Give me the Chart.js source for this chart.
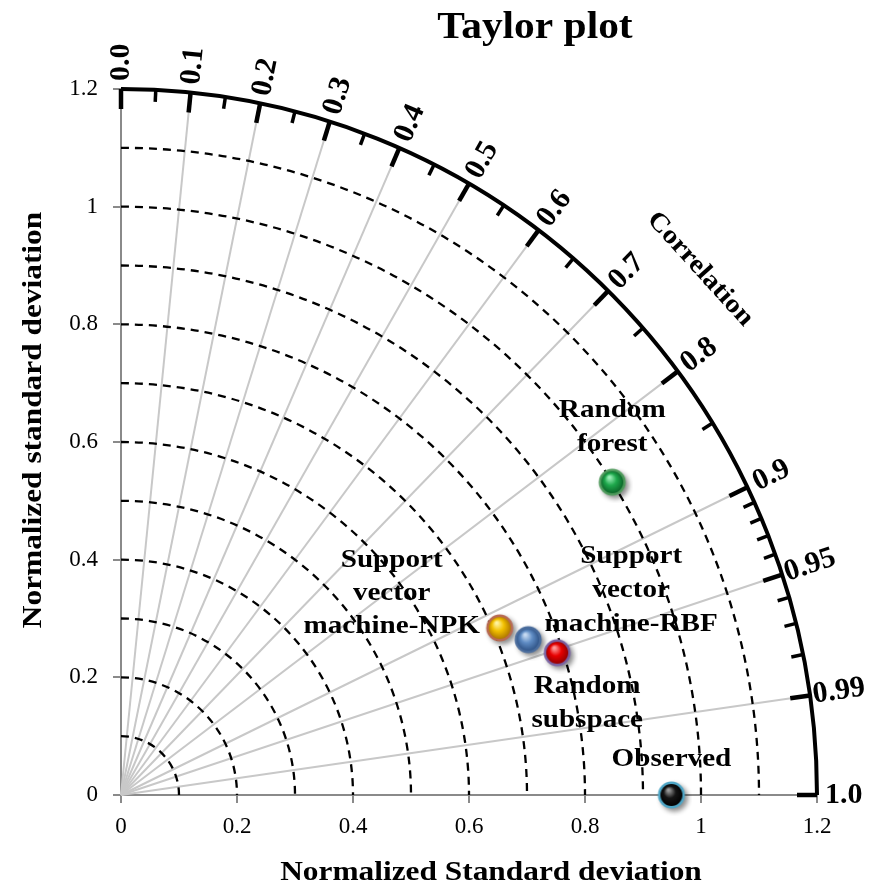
<!DOCTYPE html>
<html>
<head>
<meta charset="utf-8">
<script src="https://cdn.jsdelivr.net/npm/chart.js@4.4.1/dist/chart.umd.min.js"></script>
<style>
  html, body { margin: 0; padding: 0; background: #fff; }
  canvas { display: block; }
</style>
</head>
<body>
<canvas id="taylor" width="870" height="888"></canvas>
<script>
// data
const models = ["Observed", "Random forest", "Support vector machine-NPK", "Support vector machine-RBF", "Random subspace"]
const stdDev = [0.949, 1.0, 0.712, 0.75, 0.79]
const correlation = [1.0, 0.847, 0.917, 0.936, 0.952]
const labelLines = [["Observed"], ["Random", "forest"], ["Support", "vector", "machine-NPK"], ["Support", "vector", "machine-RBF"], ["Random", "subspace"]]

const stdTicks = [0, 0.2, 0.4, 0.6, 0.8, 1, 1.2]
const stdTickLabels = ["0", "0.2", "0.4", "0.6", "0.8", "1", "1.2"]
const sdArcs = [0.1, 0.2, 0.3, 0.4, 0.5, 0.6, 0.7, 0.8, 0.9, 1.0, 1.1]
const corrMajor = [0.0, 0.1, 0.2, 0.3, 0.4, 0.5, 0.6, 0.7, 0.8, 0.9, 0.95, 0.99, 1.0]
const corrLabels = ["0.0", "0.1", "0.2", "0.3", "0.4", "0.5", "0.6", "0.7", "0.8", "0.9", "0.95", "0.99", "1.0"]
const corrMinor = [0.05, 0.15, 0.25, 0.35, 0.45, 0.55, 0.65, 0.75, 0.85, 0.91, 0.92, 0.93, 0.94, 0.96, 0.97, 0.98]
const corrLines = [0.1, 0.2, 0.3, 0.4, 0.5, 0.6, 0.7, 0.8, 0.9, 0.95, 0.99]
const RMAX = 1.2

// styling
const SERIF = '"Liberation Serif", "Times New Roman", serif'
const SX = 1.12 // the reference text is a little wide
// [light, base, dark, rim]
const sphereColors = [
  ["#9a9a9a", "#151515", "#000000", "#4fa6c6"],
  ["#9cf0b8", "#1ea84c", "#0a5d25", "#4f9a5c"],
  ["#fff3a0", "#f2c000", "#a87000", "#b86a52"],
  ["#c6daf2", "#5f8cc4", "#2c4f82", "#4a6c9c"],
  ["#ff9a9a", "#e80000", "#8a0000", "#7a62a2"],
]
// label offsets from the marker centre: [dx, first baseline dy, line step]
const labelPos = [[0, -29, 34], [0, -65, 34], [-108, -61, 33], [103, -77, 34], [30, 40, 34]]

function sphere(c) {
  const cv = document.createElement("canvas")
  cv.width = cv.height = 42
  const g = cv.getContext("2d")
  g.save()
  g.shadowColor = "rgba(0,0,0,0.45)"
  g.shadowBlur = 5
  g.shadowOffsetX = 3
  g.shadowOffsetY = 3
  g.beginPath()
  g.arc(21, 21, 13.5, 0, Math.PI * 2)
  g.fillStyle = c[3]
  g.fill()
  g.restore()
  const grad = g.createRadialGradient(18, 16, 1, 21, 21, 12)
  grad.addColorStop(0, c[0])
  grad.addColorStop(0.45, c[1])
  grad.addColorStop(1, c[2])
  g.beginPath()
  g.arc(21, 21, 11, 0, Math.PI * 2)
  g.fillStyle = grad
  g.fill()
  return cv
}

function wideText(ctx, text, x, y, font, rot, align, base) {
  ctx.save()
  ctx.translate(x, y)
  ctx.rotate(rot || 0)
  ctx.scale(SX, 1)
  ctx.font = font
  ctx.textAlign = align || "center"
  ctx.textBaseline = base || "alphabetic"
  ctx.fillStyle = "#000"
  ctx.fillText(text, 0, 0)
  ctx.restore()
}

const taylorPlugin = {
  id: "taylor",
  beforeDatasetsDraw(chart) {
    const { ctx } = chart
    const xs = chart.scales.x, ys = chart.scales.y
    const ox = xs.getPixelForValue(0), oy = ys.getPixelForValue(0)
    const kx = xs.getPixelForValue(1) - ox, ky = oy - ys.getPixelForValue(1)
    const P = (r, c) => [ox + r * c * kx, oy - r * Math.sqrt(Math.max(0, 1 - c * c)) * ky]
    const dir = (c) => {
      const p = P(1, c)
      const dx = p[0] - ox, dy = p[1] - oy
      const l = Math.hypot(dx, dy)
      return [dx / l, dy / l]
    }

    ctx.save()
    // radial correlation lines
    ctx.strokeStyle = "#c8c8c8"
    ctx.lineWidth = 2
    corrLines.forEach((c) => {
      const p = P(RMAX, c)
      ctx.beginPath()
      ctx.moveTo(ox, oy)
      ctx.lineTo(p[0], p[1])
      ctx.stroke()
    })

    // std dev arcs
    ctx.strokeStyle = "#000"
    ctx.lineWidth = 2.3
    ctx.setLineDash([8, 6])
    sdArcs.forEach((r) => {
      ctx.beginPath()
      ctx.ellipse(ox, oy, r * kx, r * ky, 0, -Math.PI / 2, 0)
      ctx.stroke()
    })
    ctx.setLineDash([])

    // outer arc
    ctx.lineWidth = 4
    ctx.beginPath()
    ctx.ellipse(ox, oy, RMAX * kx, RMAX * ky, 0, -Math.PI / 2, 0)
    ctx.stroke()

    // ticks
    ctx.lineCap = "butt"
    const tick = (c, len, w) => {
      const p = P(RMAX, c), d = dir(c)
      ctx.lineWidth = w
      ctx.beginPath()
      ctx.moveTo(p[0], p[1])
      ctx.lineTo(p[0] - d[0] * len, p[1] - d[1] * len)
      ctx.stroke()
    }
    corrMinor.forEach((c) => tick(c, 12, 3.5))
    corrMajor.forEach((c) => tick(c, 20, 4.5))

    // correlation labels
    ctx.fillStyle = "#000"
    ctx.font = "bold 30px " + SERIF
    ctx.textAlign = "left"
    ctx.textBaseline = "middle"
    corrMajor.forEach((c, i) => {
      const d = dir(c)
      const gap = c > 0.92 && c < 1 ? 3 : 8
      const p = P(RMAX, c)
      ctx.save()
      ctx.translate(p[0] + d[0] * gap, p[1] + d[1] * gap)
      ctx.rotate(Math.atan2(d[1], d[0]))
      ctx.fillText(corrLabels[i], 0, 0)
      ctx.restore()
    })

    // "Correlation" caption along the arc
    const cc = 0.745, cd = dir(cc), cp = P(1.34, cc)
    wideText(ctx, "Correlation", cp[0], cp[1], "bold 26px " + SERIF, Math.atan2(cd[1], cd[0]) + Math.PI / 2, "center", "middle")
    ctx.restore()
  },
  afterDatasetsDraw(chart) {
    const { ctx } = chart
    const meta = chart.getDatasetMeta(0)
    labelLines.forEach((lines, i) => {
      const pt = meta.data[i]
      const [dx, dy, step] = labelPos[i]
      lines.forEach((t, j) => {
        wideText(ctx, t, pt.x + dx, pt.y + dy + j * step, "bold 26px " + SERIF)
      })
    })
  },
  afterDraw(chart) {
    const { ctx } = chart
    wideText(ctx, "Taylor plot", 535, 38, "bold 37px " + SERIF)
    wideText(ctx, "Normalized Standard deviation", 491, 880, "bold 28px " + SERIF)
    wideText(ctx, "Normalized standard deviation", 41, 420, "bold 28px " + SERIF, -Math.PI / 2)
  },
}

const axisCommon = {
  type: "linear",
  min: 0,
  max: 1.2,
  afterBuildTicks: (scale) => {
    scale.ticks = stdTicks.map((v) => ({ value: v }))
  },
  border: { display: true, color: "#8a8a8a", width: 2 },
  grid: { drawOnChartArea: false, drawTicks: true, tickLength: 8, color: "#8a8a8a", lineWidth: 2 },
}

new Chart(document.getElementById("taylor"), {
  type: "scatter",
  data: {
    datasets: [
      {
        label: "models",
        data: stdDev.map((s, i) => ({ x: s * correlation[i], y: s * Math.sqrt(1 - correlation[i] * correlation[i]) })),
        pointStyle: sphereColors.map(sphere),
        clip: false,
      },
    ],
  },
  options: {
    responsive: false,
    animation: false,
    events: [],
    layout: { padding: { top: 89, right: 53, left: 0, bottom: 0 } },
    plugins: { legend: { display: false }, tooltip: { enabled: false }, title: { display: false } },
    scales: {
      x: {
        ...axisCommon,
        afterFit: (scale) => { scale.height = 93 },
        ticks: {
          color: "#000",
          padding: 10,
          maxRotation: 0,
          font: { family: SERIF, size: 23 },
          callback: (v, i) => stdTickLabels[i],
        },
      },
      y: {
        ...axisCommon,
        afterFit: (scale) => { scale.width = 121 },
        ticks: {
          color: "#000",
          padding: 15,
          font: { family: SERIF, size: 23 },
          callback: (v, i) => stdTickLabels[i],
        },
      },
    },
  },
  plugins: [taylorPlugin],
})
</script>
</body>
</html>
